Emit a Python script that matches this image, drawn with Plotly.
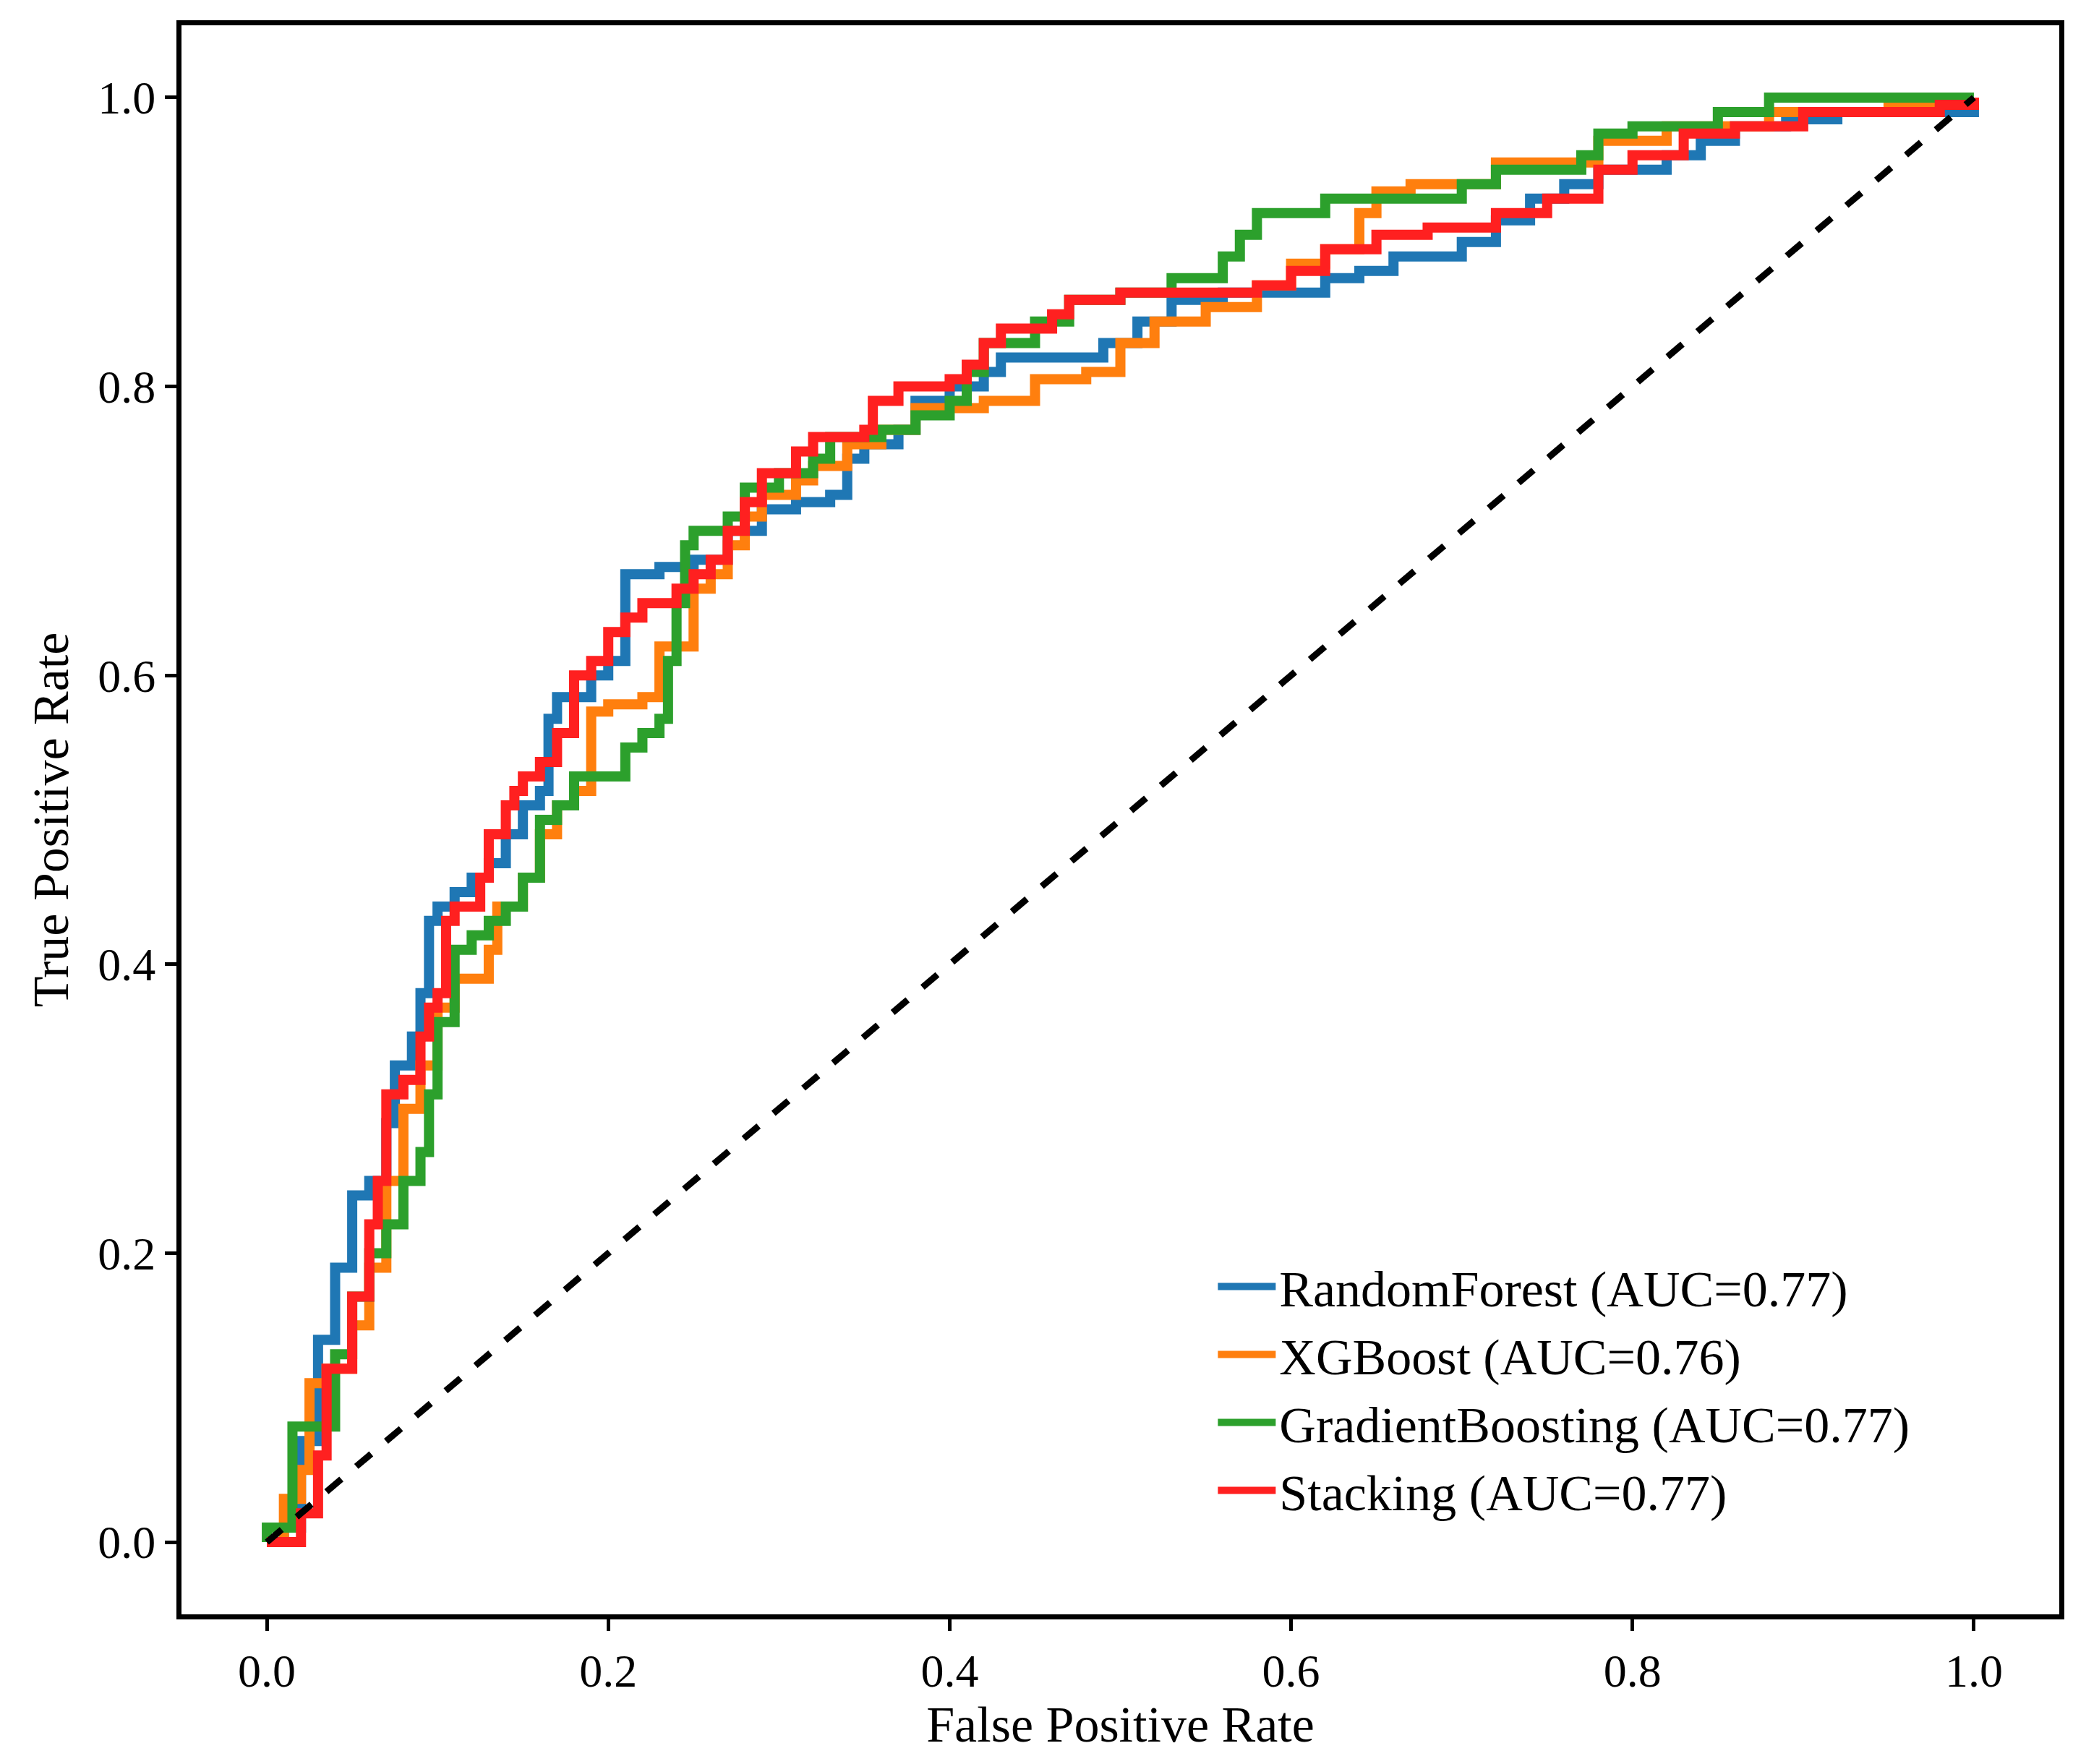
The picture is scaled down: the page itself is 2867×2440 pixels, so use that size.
import plotly.graph_objects as go

rf_x=[0,0.01,0.02,0.03,0.04,0.05,0.06,0.07,0.075,0.085,0.09,0.095,0.1,0.11,0.12,0.13,0.14,0.15,0.16,0.165,0.17,0.18,0.19,0.2,0.21,0.21,0.23,0.25,0.27,0.29,0.31,0.33,0.34,0.35,0.37,0.38,0.4,0.42,0.43,0.47,0.49,0.51,0.53,0.56,0.6,0.62,0.64,0.66,0.7,0.72,0.74,0.76,0.78,0.82,0.84,0.86,0.89,0.92,1]
rf_y=[0,0.01,0.07,0.14,0.19,0.24,0.25,0.29,0.33,0.35,0.38,0.43,0.44,0.45,0.46,0.47,0.49,0.51,0.52,0.57,0.585,0.585,0.60,0.61,0.63,0.67,0.675,0.68,0.70,0.715,0.72,0.725,0.75,0.76,0.77,0.79,0.80,0.81,0.82,0.82,0.83,0.845,0.86,0.865,0.865,0.875,0.88,0.89,0.90,0.915,0.93,0.94,0.95,0.96,0.97,0.98,0.985,0.99,1]
xgb_x=[0,0.01,0.02,0.025,0.035,0.05,0.06,0.07,0.08,0.09,0.1,0.11,0.12,0.13,0.135,0.15,0.16,0.17,0.18,0.19,0.19,0.2,0.22,0.23,0.24,0.25,0.26,0.27,0.28,0.29,0.31,0.32,0.34,0.36,0.38,0.42,0.44,0.45,0.48,0.5,0.52,0.55,0.58,0.6,0.62,0.64,0.65,0.67,0.72,0.78,0.82,0.88,0.95,1]
xgb_y=[0,0.03,0.05,0.11,0.12,0.15,0.19,0.25,0.30,0.33,0.37,0.39,0.39,0.41,0.44,0.46,0.49,0.51,0.52,0.56,0.575,0.58,0.585,0.62,0.62,0.66,0.67,0.69,0.71,0.725,0.735,0.745,0.76,0.77,0.785,0.79,0.79,0.805,0.81,0.83,0.845,0.855,0.87,0.885,0.895,0.92,0.935,0.94,0.955,0.97,0.98,0.99,0.995,1]
gb_x=[0,0,0.015,0.015,0.03,0.04,0.05,0.06,0.07,0.08,0.08,0.09,0.095,0.1,0.11,0.11,0.12,0.13,0.14,0.15,0.16,0.17,0.18,0.2,0.21,0.22,0.23,0.235,0.24,0.245,0.25,0.27,0.28,0.3,0.32,0.33,0.36,0.38,0.4,0.41,0.42,0.45,0.47,0.5,0.53,0.56,0.57,0.58,0.62,0.7,0.72,0.77,0.78,0.8,0.85,0.88,1]
gb_y=[0,0.01,0.01,0.08,0.08,0.13,0.17,0.20,0.22,0.22,0.25,0.27,0.31,0.36,0.39,0.41,0.42,0.43,0.44,0.46,0.5,0.51,0.53,0.53,0.55,0.56,0.57,0.61,0.65,0.69,0.70,0.71,0.73,0.74,0.75,0.765,0.77,0.78,0.79,0.81,0.83,0.845,0.86,0.865,0.875,0.89,0.905,0.92,0.93,0.94,0.95,0.96,0.975,0.98,0.99,1.0,1]
st_x=[0,0.02,0.02,0.03,0.035,0.05,0.06,0.065,0.07,0.08,0.09,0.095,0.1,0.105,0.11,0.12,0.125,0.13,0.14,0.145,0.15,0.16,0.17,0.18,0.19,0.2,0.21,0.22,0.24,0.25,0.26,0.27,0.28,0.29,0.31,0.32,0.35,0.355,0.37,0.4,0.41,0.42,0.43,0.46,0.47,0.5,0.58,0.6,0.62,0.65,0.68,0.72,0.75,0.78,0.8,0.83,0.86,0.9,0.98,1]
st_y=[0,0,0.02,0.06,0.12,0.17,0.22,0.25,0.31,0.32,0.35,0.37,0.38,0.43,0.44,0.44,0.46,0.49,0.51,0.52,0.53,0.54,0.56,0.6,0.61,0.63,0.64,0.65,0.66,0.67,0.68,0.70,0.72,0.74,0.755,0.765,0.77,0.79,0.80,0.805,0.815,0.83,0.84,0.85,0.86,0.865,0.87,0.88,0.895,0.905,0.91,0.92,0.93,0.95,0.96,0.975,0.98,0.99,0.995,1]

series=[("RandomForest (AUC=0.77)",rf_x,rf_y,"#1f77b4"),
        ("XGBoost (AUC=0.76)",xgb_x,xgb_y,"#ff7f0e"),
        ("GradientBoosting (AUC=0.77)",gb_x,gb_y,"#2ca02c"),
        ("Stacking (AUC=0.77)",st_x,st_y,"#ff2020")]

fig=go.Figure()
for name,x,y,c in series:
    fig.add_trace(go.Scatter(x=x,y=y,mode="lines",name=name,line=dict(color=c,width=14,shape="hv")))
fig.add_trace(go.Scatter(x=[0,1],y=[0,1],mode="lines",showlegend=False,line=dict(color="black",width=9,dash="dash")))

ax=dict(showgrid=False,zeroline=False,showline=True,mirror=True,linecolor="black",linewidth=7,
        ticks="outside",ticklen=16,tickwidth=5,tickcolor="black",tickfont=dict(size=64,color="black"),
        tickformat=".1f",dtick=0.2,range=[-0.05,1.05])
fig.update_layout(width=2867,height=2440,plot_bgcolor="white",paper_bgcolor="white",
    font=dict(family="Liberation Serif",color="black"),
    margin=dict(l=243,r=27,t=27,b=215),
    xaxis=dict(ax,title=dict(text="False Positive Rate",font=dict(size=70),standoff=15)),
    yaxis=dict(ax,title=dict(text="True Positive Rate",font=dict(size=70),standoff=20)),
    legend=dict(x=0.55,y=0.23,xanchor="left",yanchor="top",font=dict(size=70),bgcolor="rgba(0,0,0,0)",
                itemwidth=80,tracegroupgap=12))
fig.write_html("out.html")
